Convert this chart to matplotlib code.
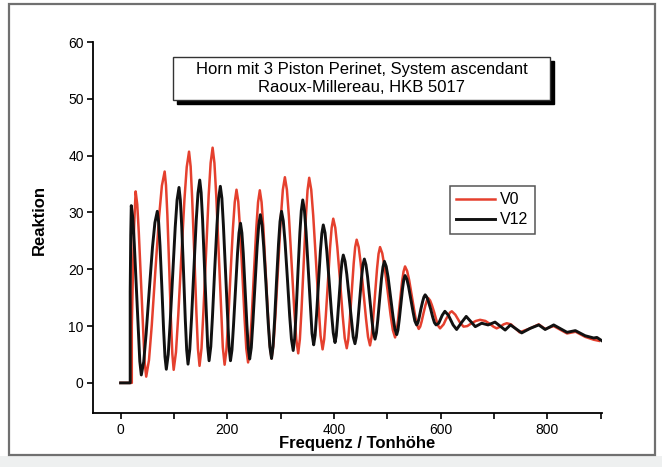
import matplotlib
matplotlib.use("Agg")
import matplotlib.pyplot as plt
from matplotlib.patches import Rectangle

plt.rcParams['font.family'] = ['Liberation Sans', 'DejaVu Sans']

# ---------------- data ----------------
v12_x = [0, 18, 18, 19, 20,
         22.8, 25.6, 29.4, 33.2, 36.0, 38.8,
         43.3, 47.8, 53.8, 59.8, 64.3, 68.8,
         71.3, 73.9, 77.3, 80.6, 83.2, 85.7,
         89.3, 92.8, 97.6, 102.4, 105.9, 109.5,
         112.0, 114.6, 118.0, 121.3, 123.9, 126.4,
         129.7, 133.0, 137.4, 141.8, 145.1, 148.4,
         151.0, 153.7, 157.2, 160.7, 163.3, 165.9,
         169.1, 172.2, 176.4, 180.7, 183.8, 187.0,
         189.9, 192.7, 196.5, 200.3, 203.2, 206.0,
         208.8, 211.6, 215.4, 219.2, 222.0, 224.8,
         227.4, 230.0, 233.4, 236.8, 239.4, 242.0,
         245.0, 248.0, 252.0, 256.0, 259.0, 262.0,
         265.2, 268.3, 272.5, 276.7, 279.9, 283.0,
         285.8, 288.6, 292.3, 296.1, 298.9, 301.7,
         305.0, 308.3, 312.7, 317.0, 320.3, 323.6,
         326.3, 329.0, 332.5, 336.1, 338.8, 341.5,
         344.6, 347.7, 351.8, 355.9, 358.9, 362.0,
         364.7, 367.4, 371.0, 374.6, 377.3, 380.0,
         383.3, 386.6, 391.0, 395.4, 398.7, 402.0,
         404.3, 406.6, 409.7, 412.8, 415.2, 417.5,
         420.8, 424.1, 428.5, 432.8, 436.1, 439.4,
         442.0, 444.7, 448.2, 451.7, 454.4, 457.0,
         460.0, 463.0, 467.0, 471.0, 474.0, 477.0,
         479.6, 482.2, 485.7, 489.2, 491.9, 494.5,
         498.0, 501.5, 506.1, 510.7, 514.2, 517.7,
         520.0, 522.4, 525.5, 528.6, 531.0, 533.3,
         536.6, 539.8, 544.2, 548.5, 551.7, 555.0,
         557.4, 559.8, 563.0, 566.2, 568.6, 571.0,
         574.1, 577.2, 581.3, 585.4, 588.4, 591.5,
         596.5, 603.0, 608.0, 614.6, 623.4, 630.0,
         639, 648, 656.5, 665, 677, 689, 702, 721, 731, 752,
         768, 784, 796, 812, 837, 852.6, 871, 887, 893, 902.6]
v12_y = [0, 0, 16, 26, 31.2,
         29.1, 24.6, 16.9, 8.9, 3.8, 1.4,
         3.7, 8.6, 16.4, 23.9, 28.2, 30.2,
         28.3, 24.1, 16.9, 9.4, 4.6, 2.4,
         5.0, 10.4, 19.0, 27.4, 32.2, 34.4,
         32.2, 27.6, 19.5, 11.1, 5.8, 3.3,
         5.9, 11.4, 20.1, 28.6, 33.4, 35.7,
         33.5, 28.7, 20.4, 11.9, 6.4, 3.9,
         6.4, 11.6, 19.9, 27.8, 32.5, 34.6,
         32.5, 27.8, 19.9, 11.6, 6.4, 3.9,
         5.8, 10.0, 16.5, 22.8, 26.4, 28.1,
         26.4, 22.8, 16.6, 10.2, 6.1, 4.2,
         6.2, 10.6, 17.4, 24.0, 27.8, 29.6,
         27.8, 24.0, 17.5, 10.6, 6.3, 4.3,
         6.4, 10.8, 17.8, 24.5, 28.4, 30.2,
         28.5, 24.8, 18.4, 11.8, 7.7, 5.7,
         7.8, 12.3, 19.5, 26.4, 30.3, 32.2,
         30.4, 26.6, 20.0, 13.1, 8.7, 6.7,
         8.4, 12.0, 17.7, 23.2, 26.3, 27.8,
         26.4, 23.2, 17.9, 12.3, 8.8, 7.1,
         8.3, 11.0, 15.1, 19.1, 21.4, 22.5,
         21.4, 19.1, 15.0, 10.8, 8.1, 6.9,
         8.1, 10.6, 14.6, 18.5, 20.8, 21.8,
         20.8, 18.7, 15.0, 11.2, 8.8, 7.7,
         8.8, 11.1, 14.8, 18.4, 20.4, 21.4,
         20.5, 18.6, 15.2, 11.7, 9.5, 8.5,
         9.3, 11.1, 13.9, 16.6, 18.2, 18.9,
         18.3, 17.0, 14.7, 12.4, 10.9, 10.2,
         10.6, 11.5, 13.0, 14.3, 15.1, 15.5,
         15.1, 14.3, 13.0, 11.5, 10.6, 10.2,
         10.5, 11.9, 12.6, 11.9, 10.2, 9.4,
         10.6, 11.7, 10.8, 9.9, 10.5, 10.2, 10.7, 9.3, 10.2, 8.8,
         9.6, 10.2, 9.4, 10.2, 8.9, 9.2, 8.3, 7.9, 8.0, 7.4]

v0_x = [0, 21, 21, 23, 25.5, 28.2,
        31.2, 34.1, 38.1, 42.1, 45.0, 48.0,
        53.2, 58.4, 65.3, 72.2, 77.4, 82.6,
        85.1, 87.7, 91.1, 94.4, 97.0, 99.5,
        103.8, 108.1, 113.9, 119.7, 124.0, 128.3,
        131.3, 134.2, 138.2, 142.1, 145.0, 148.0,
        151.7, 155.3, 160.2, 165.1, 168.8, 172.5,
        175.9, 179.3, 183.8, 188.3, 191.6, 195.0,
        198.3, 201.7, 206.1, 210.6, 214.0, 217.3,
        220.6, 223.8, 228.2, 232.5, 235.7, 239.0,
        242.3, 245.6, 250.0, 254.4, 257.7, 261.0,
        264.3, 267.6, 272.0, 276.4, 279.7, 283.0,
        286.7, 290.5, 295.5, 300.5, 304.2, 308.0,
        311.8, 315.5, 320.5, 325.5, 329.3, 333.0,
        336.1, 339.2, 343.3, 347.4, 350.5, 353.6,
        357.4, 361.1, 366.2, 371.2, 374.9, 378.7,
        381.7, 384.7, 388.7, 392.7, 395.7, 398.7,
        402.5, 406.3, 411.4, 416.4, 420.2, 424.0,
        426.8, 429.6, 433.3, 437.0, 439.8, 442.6,
        446.4, 450.1, 455.1, 460.1, 463.9, 467.6,
        470.4, 473.2, 477.0, 480.8, 483.6, 486.4,
        490.6, 494.9, 500.5, 506.1, 510.4, 514.6,
        517.4, 520.2, 523.9, 527.7, 530.5, 533.3,
        537.2, 541.0, 546.2, 551.3, 555.1, 559.0,
        561.7, 564.4, 568.0, 571.6, 574.3, 577.0,
        580.3, 583.6, 588.0, 592.4, 595.7, 599.0,
        605.6, 610.0, 614.4, 617.7, 621.0,
        627.6, 632.0, 636.4, 643.0,
        650, 658, 666, 674, 684, 692, 699, 705,
        712, 718, 724, 732, 740, 748,
        768, 784, 796, 812, 837, 853, 871, 887, 897]
v0_y = [0, 0, 10, 19, 28, 33.7,
        31.4, 26.5, 18.1, 9.3, 3.7, 1.1,
        4.0, 10.1, 19.9, 29.3, 34.7, 37.2,
        34.8, 29.5, 20.4, 11.0, 5.1, 2.3,
        5.4, 11.9, 22.3, 32.3, 38.0, 40.7,
        38.1, 32.4, 22.6, 12.4, 6.0, 3.0,
        6.1, 12.6, 23.0, 33.0, 38.7, 41.4,
        38.7, 33.0, 23.1, 12.8, 6.3, 3.2,
        5.7, 10.9, 19.2, 27.2, 31.8, 34.0,
        31.9, 27.3, 19.4, 11.2, 6.0, 3.6,
        6.0, 11.2, 19.4, 27.2, 31.8, 33.9,
        31.8, 27.4, 19.7, 11.7, 6.7, 4.3,
        6.9, 12.3, 20.9, 29.2, 34.0, 36.2,
        34.0, 29.4, 21.3, 13.0, 7.7, 5.2,
        7.7, 12.9, 21.3, 29.3, 33.9, 36.1,
        34.0, 29.5, 21.6, 13.5, 8.3, 5.9,
        7.7, 11.7, 17.9, 23.8, 27.3, 28.9,
        27.3, 23.9, 18.0, 11.8, 7.9, 6.1,
        7.6, 10.9, 16.0, 21.0, 23.9, 25.2,
        23.9, 21.1, 16.3, 11.3, 8.1, 6.6,
        8.0, 10.9, 15.6, 20.1, 22.7, 23.9,
        22.8, 20.4, 16.3, 12.0, 9.3, 8.0,
        9.0, 11.1, 14.5, 17.8, 19.6, 20.5,
        19.7, 18.1, 15.2, 12.3, 10.4, 9.5,
        9.9, 10.8, 12.3, 13.7, 14.5, 14.9,
        14.5, 13.7, 12.4, 10.9, 10.0, 9.6,
        10.3, 11.2, 11.9, 12.4, 12.6,
        12.0, 11.3, 10.6, 9.9,
        10.0, 10.5, 10.9, 11.1, 10.9, 10.4, 9.9, 9.6,
        9.9, 10.3, 10.5, 10.3, 9.6, 8.9,
        9.6, 10.3, 9.5, 10.0, 8.7, 9.0, 8.1, 7.6, 7.4]

series_labels = ['V0', 'V12']
x_ticks = [0, 100, 200, 300, 400, 500, 600, 700, 800, 900]
x_ticklabels = ['0', '', '200', '', '400', '', '600', '', '800', '']
y_ticks = [0, 10, 20, 30, 40, 50, 60]
title_lines = ['Horn mit 3 Piston Perinet, System ascendant',
               'Raoux-Millereau, HKB 5017']

# ---------------- figure ----------------
W, H = 662, 467
fig = plt.figure(figsize=(W / 100, H / 100), dpi=100)
fig.patch.set_facecolor('white')

def fx(px):
    return px / W

def fy(py):
    return 1 - py / H

# outer frame (behind the axes)
fig.patches.append(Rectangle((0, 0), 1, fy(456), transform=fig.transFigure,
                             facecolor='#eef0f0', edgecolor='none', zorder=-2))
fig.patches.append(Rectangle((fx(9), fy(455)), fx(655) - fx(9), fy(4) - fy(455),
                             transform=fig.transFigure, facecolor='white',
                             edgecolor='#707070', linewidth=1.6, zorder=-1))

ax = fig.add_axes([fx(93.4), fy(413), fx(601.7) - fx(93.4), fy(42) - fy(413)])
ax.set_facecolor('none')
ax.set_zorder(1)

ax.plot(v0_x, v0_y, color='#e5402e', lw=1.8, label=series_labels[0],
        solid_joinstyle='round')
ax.plot(v12_x, v12_y, color='#111111', lw=2.1, label=series_labels[1],
        solid_joinstyle='round')

ax.set_xlim(-51, 902)
ax.set_ylim(-5.3, 60)
ax.spines['top'].set_visible(False)
ax.spines['right'].set_visible(False)
for s in ('left', 'bottom'):
    ax.spines[s].set_linewidth(1.3)

ax.set_xticks(x_ticks)
ax.set_xticklabels(x_ticklabels)
ax.set_yticks(y_ticks)
ax.tick_params(axis='both', direction='out', length=4, width=1.2,
               labelsize=10, colors='black', pad=3)

ax.set_xlabel('Frequenz / Tonhöhe', fontsize=12, fontweight='bold')
ax.xaxis.set_label_coords(0.519, -0.062)
ax.set_ylabel('Reaktion', fontsize=12, fontweight='bold')
ax.yaxis.set_label_coords(-0.091, 0.52)

leg = ax.legend(loc='upper left', bbox_to_anchor=(fx(450), fy(186)),
                bbox_transform=fig.transFigure, fontsize=11.5, frameon=True,
                fancybox=False, edgecolor='#555555', framealpha=1,
                handlelength=2.4, handletextpad=0.35, labelspacing=0.3,
                borderpad=0.4, borderaxespad=0)
leg.get_frame().set_linewidth(1.1)

# title box with shadow
bx0, by0, bx1, by1 = 173, 57, 550, 100
fig.patches.append(Rectangle((fx(bx0 + 4), fy(by1 + 4)), fx(bx1) - fx(bx0),
                             fy(by0) - fy(by1), transform=fig.transFigure,
                             facecolor='black', edgecolor='black', zorder=3))
fig.patches.append(Rectangle((fx(bx0), fy(by1)), fx(bx1) - fx(bx0),
                             fy(by0) - fy(by1), transform=fig.transFigure,
                             facecolor='white', edgecolor='#333333',
                             linewidth=1.0, zorder=4))
fig.text(fx(361.5), fy(69.5), title_lines[0], ha='center', va='center',
         fontsize=12, zorder=5)
fig.text(fx(361.5), fy(88), title_lines[1], ha='center', va='center',
         fontsize=12, zorder=5)

fig.savefig('out.png', dpi=100, facecolor=fig.get_facecolor())
